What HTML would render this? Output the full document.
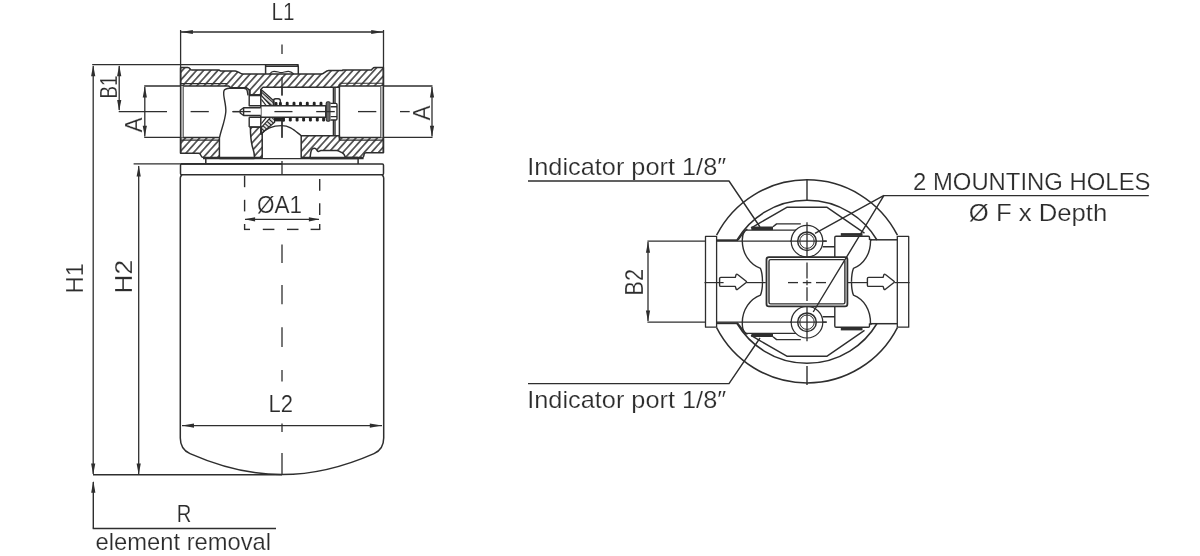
<!DOCTYPE html>
<html lang="en"><head><meta charset="utf-8"><title>Filter dimensions</title>
<style>
html,body{margin:0;padding:0;background:#fff;}
body{width:1200px;height:556px;overflow:hidden;}
svg{display:block;filter:grayscale(1);}
svg text{font-family:"Liberation Sans",sans-serif;fill:#2c2c2c;stroke:#fff;stroke-width:0.2px;}
</style></head><body>
<svg width="1200" height="556" viewBox="0 0 1200 556" fill="none" stroke="#2e2e2e" stroke-linecap="butt" stroke-linejoin="round">
<defs>
<pattern id="hatch" patternUnits="userSpaceOnUse" width="5.28" height="5.28" patternTransform="translate(0.6 0) rotate(-48)">
<rect width="5.28" height="5.28" fill="#fff" stroke="none"/>
<line x1="-1" y1="2.64" x2="6.3" y2="2.64" stroke="#222" stroke-width="1.35"/>
</pattern>
<pattern id="hatch2" patternUnits="userSpaceOnUse" width="3" height="3" patternTransform="rotate(42)">
<rect width="3" height="3" fill="#fff" stroke="none"/>
<line x1="-1" y1="1.5" x2="4" y2="1.5" stroke="#222" stroke-width="1.3"/>
</pattern>
</defs>
<line x1="180.6" y1="30" x2="180.6" y2="67.6" stroke-width="1.3" />
<line x1="383.5" y1="30" x2="383.5" y2="67.6" stroke-width="1.3" />
<line x1="181" y1="32" x2="383" y2="32" stroke-width="1.3" />
<polygon points="180.9,32.0 192.9,29.9 192.9,34.1" fill="#2e2e2e" stroke="none"/>
<polygon points="383.2,32.0 371.2,29.9 371.2,34.1" fill="#2e2e2e" stroke="none"/>
<text x="271.5" y="19.5" font-size="24" textLength="23" lengthAdjust="spacingAndGlyphs" text-anchor="start">L1</text>
<line x1="92.2" y1="64.7" x2="298.6" y2="64.7" stroke-width="1.3" />
<line x1="93.2" y1="66" x2="93.2" y2="474" stroke-width="1.3" />
<polygon points="93.2,65.2 91.1,76.2 95.3,76.2" fill="#2e2e2e" stroke="none"/>
<polygon points="93.2,474.4 91.1,463.4 95.3,463.4" fill="#2e2e2e" stroke="none"/>
<line x1="119.2" y1="66" x2="119.2" y2="110" stroke-width="1.3" />
<polygon points="119.2,65.2 117.1,76.2 121.3,76.2" fill="#2e2e2e" stroke="none"/>
<polygon points="119.2,111.0 117.1,100.0 121.3,100.0" fill="#2e2e2e" stroke="none"/>
<line x1="118.7" y1="111.6" x2="167" y2="111.6" stroke-width="1.3" />
<text x="117.2" y="98.6" font-size="24" textLength="23" lengthAdjust="spacingAndGlyphs" text-anchor="start" transform="rotate(-90 117.2 98.6)">B1</text>
<line x1="144.2" y1="86" x2="180.6" y2="86" stroke-width="1.3" />
<line x1="144.2" y1="137.3" x2="180.6" y2="137.3" stroke-width="1.3" />
<line x1="144.8" y1="87" x2="144.8" y2="136.5" stroke-width="1.3" />
<polygon points="144.8,86.6 142.7,97.6 146.9,97.6" fill="#2e2e2e" stroke="none"/>
<polygon points="144.8,136.8 142.7,125.8 146.9,125.8" fill="#2e2e2e" stroke="none"/>
<text x="141.6" y="132.4" font-size="24" textLength="15" lengthAdjust="spacingAndGlyphs" text-anchor="start" transform="rotate(-90 141.6 132.4)">A</text>
<line x1="383.5" y1="86" x2="432.5" y2="86" stroke-width="1.3" />
<line x1="383.5" y1="137.3" x2="432.5" y2="137.3" stroke-width="1.3" />
<line x1="432" y1="87" x2="432" y2="136.5" stroke-width="1.3" />
<polygon points="432.0,86.6 429.9,97.6 434.1,97.6" fill="#2e2e2e" stroke="none"/>
<polygon points="432.0,136.8 429.9,125.8 434.1,125.8" fill="#2e2e2e" stroke="none"/>
<text x="430.5" y="120.4" font-size="24" textLength="15" lengthAdjust="spacingAndGlyphs" text-anchor="start" transform="rotate(-90 430.5 120.4)">A</text>
<line x1="133.6" y1="163.9" x2="180.5" y2="163.9" stroke-width="1.3" />
<line x1="138.7" y1="166" x2="138.7" y2="474" stroke-width="1.3" />
<polygon points="138.7,165.6 136.6,176.6 140.8,176.6" fill="#2e2e2e" stroke="none"/>
<polygon points="138.7,474.4 136.6,463.4 140.8,463.4" fill="#2e2e2e" stroke="none"/>
<text x="83.4" y="293.4" font-size="24" textLength="30.5" lengthAdjust="spacingAndGlyphs" text-anchor="start" transform="rotate(-90 83.4 293.4)">H1</text>
<text x="132.3" y="293.4" font-size="24" textLength="33.5" lengthAdjust="spacingAndGlyphs" text-anchor="start" transform="rotate(-90 132.3 293.4)">H2</text>
<line x1="93" y1="474.8" x2="282" y2="474.8" stroke-width="1.5" />
<line x1="93.3" y1="482" x2="93.3" y2="528.6" stroke-width="1.4" />
<polygon points="93.3,480.8 91.2,492.8 95.4,492.8" fill="#2e2e2e" stroke="none"/>
<line x1="92.7" y1="528.6" x2="276" y2="528.6" stroke-width="1.5" />
<text x="176.8" y="521.6" font-size="24" textLength="14.6" lengthAdjust="spacingAndGlyphs" text-anchor="start">R</text>
<text x="95.6" y="550.2" font-size="24" textLength="175.5" lengthAdjust="spacingAndGlyphs" text-anchor="start">element removal</text>
<line x1="182" y1="425.6" x2="382" y2="425.6" stroke-width="1.3" />
<polygon points="182.0,425.6 194.0,423.5 194.0,427.7" fill="#2e2e2e" stroke="none"/>
<polygon points="381.8,425.6 369.8,423.5 369.8,427.7" fill="#2e2e2e" stroke="none"/>
<text x="268.5" y="411.7" font-size="24" textLength="24.5" lengthAdjust="spacingAndGlyphs" text-anchor="start">L2</text>
<line x1="245" y1="219.3" x2="319" y2="219.3" stroke-width="1.3" />
<polygon points="244.6,219.3 255.1,217.2 255.1,221.4" fill="#2e2e2e" stroke="none"/>
<polygon points="319.4,219.3 308.9,217.2 308.9,221.4" fill="#2e2e2e" stroke="none"/>
<text x="257" y="213.4" font-size="24" textLength="45" lengthAdjust="spacingAndGlyphs" text-anchor="start">ØA1</text>
<line x1="244.6" y1="175.6" x2="244.6" y2="187.2" stroke-width="1.4" />
<line x1="244.6" y1="199.8" x2="244.6" y2="211.4" stroke-width="1.4" />
<line x1="244.6" y1="224" x2="244.6" y2="229.4" stroke-width="1.4" />
<line x1="319.7" y1="179" x2="319.7" y2="190.7" stroke-width="1.4" />
<line x1="319.7" y1="203.3" x2="319.7" y2="215" stroke-width="1.4" />
<line x1="319.7" y1="224" x2="319.7" y2="229.4" stroke-width="1.4" />
<line x1="244" y1="229.4" x2="250" y2="229.4" stroke-width="1.4" />
<line x1="262.8" y1="229.4" x2="274.4" y2="229.4" stroke-width="1.4" />
<line x1="287" y1="229.4" x2="298.5" y2="229.4" stroke-width="1.4" />
<line x1="310.6" y1="229.4" x2="320.3" y2="229.4" stroke-width="1.4" />
<line x1="282" y1="44.5" x2="282" y2="54" stroke-width="1.3" />
<line x1="282" y1="77" x2="282" y2="95.5" stroke-width="1.3" />
<line x1="282" y1="119" x2="282" y2="137.7" stroke-width="1.3" />
<line x1="282" y1="161" x2="282" y2="175" stroke-width="1.3" />
<line x1="282" y1="244.5" x2="282" y2="263" stroke-width="1.3" />
<line x1="282" y1="285" x2="282" y2="304.2" stroke-width="1.3" />
<line x1="282" y1="327.2" x2="282" y2="347" stroke-width="1.3" />
<line x1="282" y1="370" x2="282" y2="381.5" stroke-width="1.3" />
<line x1="282" y1="423.5" x2="282" y2="432" stroke-width="1.3" />
<line x1="282" y1="453" x2="282" y2="474" stroke-width="1.3" />
<line x1="190.6" y1="111.6" x2="208.8" y2="111.6" stroke-width="1.3" />
<line x1="232.5" y1="111.6" x2="250.7" y2="111.6" stroke-width="1.3" />
<line x1="274.4" y1="111.6" x2="292.5" y2="111.6" stroke-width="1.3" />
<line x1="316.2" y1="111.6" x2="334.8" y2="111.6" stroke-width="1.3" />
<line x1="358" y1="111.6" x2="376.3" y2="111.6" stroke-width="1.3" />
<line x1="400" y1="111.6" x2="409.7" y2="111.6" stroke-width="1.3" />
<path d="M181.5,164 H382.4 Q383.5,164 383.5,165.2 V173.5 Q383.5,174.8 382,174.8 H182 Q180.5,174.8 180.5,173.5 V165.2 Q180.5,164 181.5,164 Z" stroke-width="1.5" fill="none" />
<line x1="180.5" y1="163.9" x2="282" y2="163.9" stroke-width="1.7" />
<path d="M182,175 Q180.3,176 180.3,178 V438 C180.3,447 184,451 190,453.6 C216,465 250,474.6 282,474.6 C314,474.6 348,465 374,453.6 C380,451 383.7,447 383.7,438 V178 Q383.7,176 382,175" stroke-width="1.5" fill="none" />
<path d="M180.6,67.6 H187.8 Q189.3,67.6 190,68.8 L190.6,69.6 Q191,70.1 192,70.1 H219.2 L220.3,70.9 H235.2 C238,71 240,74.1 243,74.1 H321 C324,74.1 325.5,70.6 328.6,70.6 H342.3 L343,69.9 H371.4 L372.6,68.6 Q373.4,67.6 374.8,67.6 H383.4 V85.9 H339.4 V87.3 H263 L261.2,89 V94.8 H250 V90.4 L246.6,87.8 H230.6 L228.8,86.1 H180.6 Z" stroke-width="1.5" fill="url(#hatch)" />
<line x1="180.6" y1="83.6" x2="227.4" y2="83.6" stroke-width="1.1" />
<line x1="339.4" y1="83.3" x2="383.4" y2="83.3" stroke-width="1.1" />
<path d="M180.6,137.5 H219.4 V157.6 H203.5 Q201.5,157.4 201,155.6 Q200.4,153.4 198.6,153.3 H180.6 Z" stroke-width="1.5" fill="url(#hatch)" />
<path d="M180.6,140.2 H219.4" stroke-width="1.3" fill="none" />
<path d="M250.4,127.1 H262.2 V157.6 H254.4 C254.6,152 253.2,150 252.2,146 C251,141 250.4,134 250.4,127.1 Z" stroke-width="1.5" fill="url(#hatch)" />
<path d="M301.2,135.7 H339.4 V137.5 H383.4 V152.8 H366 Q364.2,153 364,154.6 L363.8,156 Q363.6,157.6 362,157.6 H345.5 C344.8,155 343.6,153.2 341.5,152.4 C339.5,151.6 339,150.6 336.5,150.6 H321 C319.5,150.6 319,152 318,151.4 C316.6,150.4 316.6,148.3 314.4,148.3 C312,148.3 311.2,150 310.8,152.4 C310.4,154.6 310.2,156 310.2,157.6 H301.2 Z" stroke-width="1.5" fill="url(#hatch)" />
<path d="M339.4,140.2 H383.4" stroke-width="1.3" fill="none" />
<line x1="181.9" y1="86" x2="181.9" y2="137.4" stroke="#cfcfcf" stroke-width="2.4"/>
<line x1="183.3" y1="86.2" x2="183.3" y2="137.2" stroke="#555" stroke-width="1.0"/>
<line x1="382.1" y1="86" x2="382.1" y2="137.4" stroke="#cfcfcf" stroke-width="2.4"/>
<line x1="380.7" y1="86.2" x2="380.7" y2="137.2" stroke="#555" stroke-width="1.0"/>
<line x1="180.6" y1="67.6" x2="180.6" y2="153.3" stroke-width="1.5" />
<line x1="383.4" y1="67.6" x2="383.4" y2="152.8" stroke-width="1.5" />
<line x1="339.4" y1="84" x2="339.4" y2="140.2" stroke-width="1.5" />
<line x1="333.4" y1="87.3" x2="333.4" y2="135.7" stroke-width="1.4" />
<line x1="335" y1="87.3" x2="335" y2="135.7" stroke-width="1.4" />
<line x1="203" y1="158.6" x2="363.6" y2="158.6" stroke-width="1.4" />
<line x1="219.4" y1="157.9" x2="254.4" y2="157.9" stroke-width="2.5" />
<line x1="310.2" y1="157.9" x2="357.8" y2="157.9" stroke-width="2.5" />
<line x1="205.8" y1="159" x2="205.8" y2="163.9" stroke-width="1.5" />
<line x1="358.1" y1="159" x2="358.1" y2="163.9" stroke-width="1.5" />
<path d="M265.6,74.1 V64.7 H296.2 Q298.3,64.7 298.3,66.8 V74.1" stroke-width="1.5" fill="none" />
<path d="M265.6,66.4 H298.3" stroke-width="1.1" fill="none" />
<path d="M269.6,74 C270.8,72.4 272,71.3 274,71.3 C277,71.3 279,72.6 281,72.6 C283.5,72.6 285.5,71.3 288.4,71.3 C290.6,71.3 292.4,72.6 293.8,74" stroke-width="1.2" fill="none" />
<path d="M219.6,137.4 C221,130 224.8,122 225.8,112 C226.4,104 222.6,96 223.9,91 C224.6,89 227,88.4 229.5,88.3 H243.8 Q246.6,88.4 247.2,90.6 L248,95.4" stroke-width="1.4" fill="none" />
<path d="M249.2,89.6 V95.6 H260.8 M249.2,95.6 V105.7 H260.8 M249.2,117.3 H260.8 M249.2,117.3 V127.1 M249.2,127.1 H260.8" stroke-width="1.4" fill="none" />
<line x1="260.8" y1="89" x2="260.8" y2="134.6" stroke-width="1.5" />
<path d="M261.4,89.8 L274,101 V105.6 H270.6 L261.4,95.6 Z" stroke-width="1.3" fill="url(#hatch2)" />
<path d="M261.4,99.4 L266.2,105.6" stroke-width="1.2" fill="none" />
<path d="M261.4,133.4 L274.6,122.2 V117.4 H270.6 L261.4,127.4 Z" stroke-width="1.3" fill="url(#hatch2)" />
<path d="M261.4,123.6 L266.4,117.4" stroke-width="1.2" fill="none" />
<path d="M273.4,105.6 V101 Q273.4,98.8 275.6,98.8 H278.2 Q280.4,98.8 280.4,101 V105.6" stroke-width="1.4" fill="none" />
<rect x="274" y="117.4" width="10.6" height="4" fill="#222" stroke="none"/>
<rect x="274.55" y="101.9" width="2.9" height="3.8" rx="1.2" fill="#222" stroke="none"/>
<rect x="278.95" y="101.9" width="2.9" height="3.8" rx="1.2" fill="#222" stroke="none"/>
<path d="M260.8,134.6 C266,128 274,125.6 281.6,125.6 C290,125.6 294,130 301.2,135.7" stroke-width="1.4" fill="none" />
<path d="M260.8,105.7 H325.8 V117.3 H260.8 Z" stroke-width="1.5" fill="#fff" />
<path d="M260.8,107.7 H243.6 L240.2,110.2 V113 L243.6,115.5 H260.8 M243.6,107.7 V115.5" stroke-width="1.4" fill="#fff" />
<rect x="326.2" y="101.7" width="4" height="19.6" rx="1.6" fill="#666" stroke="#2e2e2e" stroke-width="1.1"/>
<path d="M330.6,103.4 H335.8 Q337,103.4 337,104.6 V118.8 Q337,120 335.8,120 H330.6 M330.6,106.8 H337 M330.6,116.6 H337" stroke-width="1.4" fill="#fff" />
<rect x="285.75" y="101.7" width="2.9" height="4" rx="1.2" fill="#222" stroke="none"/>
<rect x="292.55" y="101.7" width="2.9" height="4" rx="1.2" fill="#222" stroke="none"/>
<rect x="299.05" y="101.7" width="2.9" height="4" rx="1.2" fill="#222" stroke="none"/>
<rect x="305.85" y="101.7" width="2.9" height="4" rx="1.2" fill="#222" stroke="none"/>
<rect x="312.75" y="101.7" width="2.9" height="4" rx="1.2" fill="#222" stroke="none"/>
<rect x="319.55" y="101.7" width="2.9" height="4" rx="1.2" fill="#222" stroke="none"/>
<rect x="281.95" y="117.3" width="2.9" height="4.1" rx="1.2" fill="#222" stroke="none"/>
<rect x="288.85" y="117.3" width="2.9" height="4.1" rx="1.2" fill="#222" stroke="none"/>
<rect x="295.65000000000003" y="117.3" width="2.9" height="4.1" rx="1.2" fill="#222" stroke="none"/>
<rect x="302.15000000000003" y="117.3" width="2.9" height="4.1" rx="1.2" fill="#222" stroke="none"/>
<rect x="308.95" y="117.3" width="2.9" height="4.1" rx="1.2" fill="#222" stroke="none"/>
<rect x="315.85" y="117.3" width="2.9" height="4.1" rx="1.2" fill="#222" stroke="none"/>
<rect x="322.15000000000003" y="117.3" width="2.9" height="4.1" rx="1.2" fill="#222" stroke="none"/>
<line x1="232.5" y1="111.6" x2="250.7" y2="111.6" stroke-width="1.3" />
<line x1="274.4" y1="111.6" x2="292.5" y2="111.6" stroke-width="1.3" />
<line x1="316.2" y1="111.6" x2="334.8" y2="111.6" stroke-width="1.3" />
<line x1="282" y1="77" x2="282" y2="95.5" stroke-width="1.3" />
<line x1="282" y1="119" x2="282" y2="137.7" stroke-width="1.3" />
<path d="M716.6,235.2 A101.5,101.5 0 0 1 897.4,235.2" stroke-width="1.5" fill="none" />
<path d="M716.6,327.6 A101.5,101.5 0 0 0 897.4,327.6" stroke-width="1.5" fill="none" />
<path d="M737.0,240 A81.5,81.5 0 0 1 877.0,240" stroke-width="1.5" fill="none" />
<path d="M737.0,323.5 A81.5,81.5 0 0 0 877.0,323.5" stroke-width="1.5" fill="none" />
<rect x="705.5" y="236.4" width="11.1" height="90.8" stroke-width="1.3"/>
<rect x="897.3" y="236.4" width="11.4" height="90.8" stroke-width="1.3"/>
<text x="527.2" y="174.8" font-size="24" textLength="199" lengthAdjust="spacingAndGlyphs" text-anchor="start">Indicator port 1/8″</text>
<text x="527.2" y="407.8" font-size="24" textLength="199" lengthAdjust="spacingAndGlyphs" text-anchor="start">Indicator port 1/8″</text>
<text x="913" y="190.2" font-size="24" textLength="237.5" lengthAdjust="spacingAndGlyphs" text-anchor="start">2 MOUNTING HOLES</text>
<text x="968.8" y="221.4" font-size="24" textLength="138.5" lengthAdjust="spacingAndGlyphs" text-anchor="start">Ø F x Depth</text>
<text x="643" y="295.4" font-size="25.5" textLength="26.5" lengthAdjust="spacingAndGlyphs" text-anchor="start" transform="rotate(-90 643 295.4)">B2</text>
<path d="M528,181 H729 L760,227" stroke-width="1.4" fill="none" />
<path d="M528,383.6 H729 L760,338" stroke-width="1.4" fill="none" />
<path d="M1148.8,195.6 H884" stroke-width="1.4" fill="none" />
<line x1="647.4" y1="241.2" x2="705.5" y2="241.2" stroke-width="1.3" />
<line x1="647.4" y1="322.2" x2="705.5" y2="322.2" stroke-width="1.3" />
<line x1="648" y1="242" x2="648" y2="321" stroke-width="1.3" />
<polygon points="648.0,241.8 645.9,252.8 650.1,252.8" fill="#2e2e2e" stroke="none"/>
<polygon points="648.0,321.6 645.9,310.6 650.1,310.6" fill="#2e2e2e" stroke="none"/>
<line x1="807" y1="179.8" x2="807" y2="200.2" stroke-width="1.4" />
<line x1="807" y1="366" x2="807" y2="385" stroke-width="1.4" />
<line x1="716.6" y1="240.2" x2="738" y2="240.2" stroke-width="1.8" />
<line x1="870.2" y1="239.8" x2="897.3" y2="239.8" stroke-width="1.5" />
<line x1="716.6" y1="323.3" x2="738" y2="323.3" stroke-width="1.8" />
<line x1="870.2" y1="323.7" x2="897.3" y2="323.7" stroke-width="1.5" />
<line x1="716.6" y1="241.2" x2="826.7" y2="241.2" stroke-width="1.2" />
<line x1="716.6" y1="322.2" x2="826.7" y2="322.2" stroke-width="1.2" />
<path d="M751,228.2 L759,223.4 L786.8,207.3 H827.1 L864.5,233.1" stroke-width="1.4" fill="none" />
<path d="M751,335.3 L759,340.1 L786.8,356.2 H827.1 L864.5,330.4" stroke-width="1.4" fill="none" />
<path d="M744.3,231.6 C742.6,234.0 742.2,238.0 742.3,241.2 C742.5,254.0 750,264.5 760.5,268.4 C762,272.0 762.5,277.0 762.5,281.8" stroke-width="1.4" fill="none" />
<path d="M738,240.2 C741,236.0 743,232.0 747.4,229.1" stroke-width="1.4" fill="none" />
<path d="M870.5,239.2 C871,254.0 863.5,264.5 853.4,268.4 C852,272.0 851.5,277.0 851.5,281.8" stroke-width="1.4" fill="none" />
<path d="M744.3,230.1 H796.7 M773,226.8 L776.6,223.9 H800.8" stroke-width="1.4" fill="none" />
<path d="M751.4,228.3 H773" stroke-width="3.6" fill="none" />
<path d="M834.8,257.2 V237.4 Q834.8,236.2 836,236.2 H868.3 Q869.5,236.2 869.5,237.4 V240.0 M822.7,246.7 H834.8" stroke-width="1.4" fill="none" />
<path d="M840.8,234.5 H862.5" stroke-width="2.8" fill="none" />
<path d="M869.5,239.4 L872,239.8" stroke-width="1.4" fill="none" />
<path d="M744.3,331.9 C742.6,329.5 742.2,325.5 742.3,322.3 C742.5,309.5 750,299.0 760.5,295.1 C762,291.5 762.5,286.5 762.5,281.8" stroke-width="1.4" fill="none" />
<path d="M738,323.3 C741,327.5 743,331.5 747.4,334.4" stroke-width="1.4" fill="none" />
<path d="M870.5,324.3 C871,309.5 863.5,299.0 853.4,295.1 C852,291.5 851.5,286.5 851.5,281.8" stroke-width="1.4" fill="none" />
<path d="M744.3,333.4 H796.7 M773,336.7 L776.6,339.6 H800.8" stroke-width="1.4" fill="none" />
<path d="M751.4,335.2 H773" stroke-width="3.6" fill="none" />
<path d="M834.8,306.3 V326.1 Q834.8,327.3 836,327.3 H868.3 Q869.5,327.3 869.5,326.1 V323.5 M822.7,316.8 H834.8" stroke-width="1.4" fill="none" />
<path d="M840.8,329.0 H862.5" stroke-width="2.8" fill="none" />
<path d="M869.5,324.1 L872,323.7" stroke-width="1.4" fill="none" />
<circle cx="807" cy="241.2" r="15.8" stroke-width="1.2" fill="#fff"/>
<circle cx="807" cy="241.2" r="9.3" stroke-width="1.5"/>
<circle cx="807" cy="241.2" r="7.2" stroke-width="1.0"/>
<line x1="807" y1="222.2" x2="807" y2="260.5" stroke-width="1.3" />
<line x1="790" y1="241.2" x2="826.7" y2="241.2" stroke-width="1.2" />
<circle cx="807" cy="322.2" r="15.8" stroke-width="1.2" fill="#fff"/>
<circle cx="807" cy="322.2" r="9.3" stroke-width="1.5"/>
<circle cx="807" cy="322.2" r="7.2" stroke-width="1.0"/>
<line x1="807" y1="302.9" x2="807" y2="341.2" stroke-width="1.3" />
<line x1="790" y1="322.2" x2="826.7" y2="322.2" stroke-width="1.2" />
<rect x="766.5" y="257.2" width="80.9" height="49.1" rx="2.4" stroke-width="1.8" fill="#fff"/>
<rect x="769" y="259.6" width="75.9" height="44.3" rx="1.6" stroke-width="1.4"/>
<line x1="788" y1="282.6" x2="798" y2="282.6" stroke-width="1.3" />
<line x1="802.8" y1="282.6" x2="811.3" y2="282.6" stroke-width="1.3" />
<line x1="816" y1="282.6" x2="826" y2="282.6" stroke-width="1.3" />
<line x1="807" y1="262.5" x2="807" y2="278.5" stroke-width="1.3" />
<line x1="807" y1="280.3" x2="807" y2="285.3" stroke-width="1.3" />
<line x1="807" y1="287.2" x2="807" y2="301" stroke-width="1.3" />
<line x1="704.5" y1="282.6" x2="719.6" y2="282.6" stroke-width="1.2" />
<line x1="746.5" y1="282.6" x2="765.8" y2="282.6" stroke-width="1.2" />
<line x1="848" y1="282.6" x2="867.6" y2="282.6" stroke-width="1.2" />
<line x1="894.5" y1="282.6" x2="909.6" y2="282.6" stroke-width="1.2" />
<path d="M720.8000000000001,277.4 H735.3000000000001 L736.2,274.4 Q736.8000000000001,273.8 737.6,274.5 L746.2,281.3 Q746.8000000000001,281.9 746.2,282.5 L737.6,289.2 Q736.8000000000001,289.9 736.2,289.3 L735.3000000000001,286.4 H720.8000000000001 Q719.6,286.4 719.6,285.2 V278.6 Q719.6,277.4 720.8000000000001,277.4 Z" stroke-width="1.4" fill="#fff" />
<line x1="720.1" y1="282.6" x2="723.6" y2="282.6" stroke-width="1.2" />
<path d="M868.6,277.4 H883.1 L884.0,274.4 Q884.6,273.8 885.4,274.5 L894.0,281.3 Q894.6,281.9 894.0,282.5 L885.4,289.2 Q884.6,289.9 884.0,289.3 L883.1,286.4 H868.6 Q867.4,286.4 867.4,285.2 V278.6 Q867.4,277.4 868.6,277.4 Z" stroke-width="1.4" fill="#fff" />
<path d="M884,195.4 L815,233.4 M884,195.4 L813.2,312" stroke-width="1.4" fill="none" />
</svg>
</body></html>
